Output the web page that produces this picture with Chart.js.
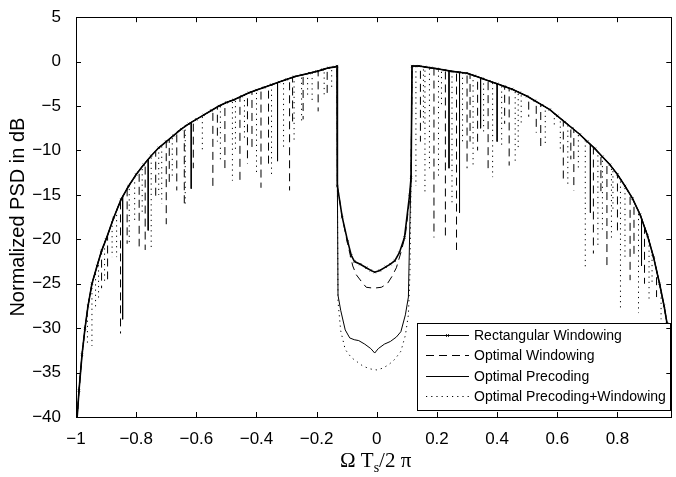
<!DOCTYPE html>
<html>
<head>
<meta charset="utf-8">
<script src="https://cdn.jsdelivr.net/npm/chart.js@4.4.1/dist/chart.umd.min.js"></script>
<style>
  html, body { margin: 0; padding: 0; background: #fff; }
  #wrap { width: 676px; height: 477px; }
</style>
</head>
<body>
<div id="wrap"><canvas id="psd" width="676" height="477"></canvas></div>
<script>
// --- data ---
const xTicks = [-1, -0.8, -0.6, -0.4, -0.2, 0, 0.2, 0.4, 0.6, 0.8];
const yTicks = [5, 0, -5, -10, -15, -20, -25, -30, -35, -40];
const seriesNames = ['Rectangular Windowing', 'Optimal Windowing', 'Optimal Precoding', 'Optimal Precoding+Windowing'];

// common upper envelope (all four curves share it)
const envLeft = [
  [-1.0, -42], [-0.99, -37], [-0.98, -33], [-0.97, -30], [-0.96, -27.5], [-0.947, -25],
  [-0.93, -23], [-0.915, -21.3], [-0.9, -20], [-0.875, -17.6], [-0.85, -15.5], [-0.825, -14],
  [-0.8, -12.7], [-0.775, -11.6], [-0.75, -10.6], [-0.725, -9.7], [-0.7, -9], [-0.675, -8.3],
  [-0.65, -7.6], [-0.625, -7.0], [-0.6, -6.5], [-0.575, -6.0], [-0.55, -5.5], [-0.525, -5.0],
  [-0.5, -4.6], [-0.475, -4.3], [-0.45, -3.9], [-0.425, -3.5], [-0.4, -3.2], [-0.375, -2.9],
  [-0.35, -2.6], [-0.325, -2.3], [-0.3, -2.0], [-0.275, -1.7], [-0.25, -1.5], [-0.225, -1.3],
  [-0.2, -1.1], [-0.18, -0.9], [-0.16, -0.7], [-0.14, -0.6], [-0.132, -0.5]
];
const envRight = [
  [0.117, -0.5], [0.14, -0.5], [0.16, -0.6], [0.18, -0.7], [0.2, -0.8], [0.225, -0.95],
  [0.25, -1.1], [0.275, -1.2], [0.3, -1.3], [0.325, -1.6], [0.35, -1.9], [0.375, -2.2],
  [0.4, -2.5], [0.425, -2.8], [0.45, -3.1], [0.475, -3.5], [0.5, -3.9], [0.525, -4.4],
  [0.55, -4.9], [0.575, -5.4], [0.6, -6.1], [0.625, -6.8], [0.65, -7.5], [0.675, -8.2],
  [0.7, -9.0], [0.725, -9.8], [0.75, -10.7], [0.775, -11.6], [0.8, -12.7], [0.825, -14.0],
  [0.85, -15.4], [0.875, -17.2], [0.9, -19.6], [0.92, -22], [0.94, -25], [0.955, -27.5],
  [0.965, -29.5], [0.975, -32], [0.985, -35.5], [0.995, -40]
];

// the notch around zero, one per curve
const rectNotch = [
  [-0.131, -14], [-0.115, -17.5], [-0.097, -20.2], [-0.085, -21.8], [-0.074, -22.5], [-0.055, -22.8],
  [-0.035, -23.2], [-0.02, -23.5], [-0.007, -23.7], [0.01, -23.5], [0.03, -23.1], [0.045, -22.8],
  [0.06, -22.4], [0.075, -21.5], [0.092, -19.8], [0.109, -15], [0.114, -13]
];
const winNotch = [
  [-0.131, -14], [-0.115, -17.5], [-0.097, -20.5], [-0.08, -23], [-0.068, -24], [-0.05, -24.8],
  [-0.035, -25.4], [-0.01, -25.5], [0.015, -25.4], [0.035, -25], [0.05, -24.2], [0.065, -23.2],
  [0.08, -21.5], [0.095, -19.5], [0.109, -15.5], [0.114, -13]
];
const precNotch = [
  [-0.131, -14], [-0.129, -26.3], [-0.12, -28], [-0.105, -30.2], [-0.09, -31.1], [-0.075, -31.3],
  [-0.06, -31.4], [-0.04, -31.8], [-0.02, -32.3], [-0.007, -32.8], [0.005, -32.3], [0.025, -31.8],
  [0.045, -31.5], [0.065, -31], [0.08, -30.4], [0.095, -28.5], [0.105, -26.5], [0.11, -18], [0.114, -13]
];
const precWinNotch = [
  [-0.131, -14], [-0.129, -27], [-0.12, -30.3], [-0.105, -32.4], [-0.085, -33.3], [-0.065, -33.8],
  [-0.045, -34.3], [-0.02, -34.6], [0.0, -34.7], [0.02, -34.5], [0.04, -34.1], [0.06, -33.5],
  [0.08, -32.6], [0.095, -30.8], [0.105, -28.5], [0.11, -24], [0.114, -13]
];

// spectral nulls: [x, top dB, bottom dB]
const winDips = [
  [-0.915, -21.3, -25.5], [-0.895, -19.6, -24.5], [-0.852, -15.6, -30.6], [-0.83, -14.3, -20.5],
  [-0.79, -12.2, -20.8], [-0.77, -11.4, -21.2], [-0.735, -10.1, -15.5], [-0.7, -9.0, -18.3],
  [-0.69, -8.7, -14], [-0.665, -7.9, -14.5], [-0.64, -7.3, -16.2], [-0.61, -6.7, -12],
  [-0.545, -5.4, -14.3], [-0.53, -5.1, -9], [-0.505, -4.7, -12.5], [-0.455, -4.0, -13.8],
  [-0.43, -3.6, -11.5], [-0.415, -3.4, -10], [-0.385, -3.0, -14.2], [-0.36, -2.7, -12],
  [-0.29, -1.9, -14.5], [-0.28, -1.8, -7], [-0.245, -1.5, -6.5], [-0.195, -1.05, -5.6],
  [-0.165, -0.75, -3.8],
  [0.145, -0.5, -9], [0.19, -0.75, -19.8], [0.228, -0.95, -19.8], [0.265, -1.15, -21.2],
  [0.3, -1.3, -12], [0.31, -1.4, -9], [0.335, -1.7, -10], [0.37, -2.1, -12.5],
  [0.425, -2.8, -7], [0.44, -3.0, -11.7], [0.505, -4.0, -6.2], [0.53, -4.5, -8],
  [0.545, -4.8, -9.7], [0.62, -6.6, -13.4], [0.645, -7.3, -11], [0.655, -7.6, -14.5],
  [0.72, -9.6, -21.6], [0.745, -10.6, -15], [0.765, -11.2, -22.9], [0.8, -12.7, -19],
  [0.842, -15, -24.6], [0.855, -15.8, -22], [0.89, -18.6, -25], [0.93, -23.5, -26.5]
];
const precDips = [
  [-0.845, -15.2, -29], [-0.76, -11, -19], [-0.617, -6.8, -14.3], [-0.33, -2.4, -11.2],
  [0.24, -1.05, -12], [0.275, -1.2, -17], [0.345, -1.8, -7.5], [0.4, -2.5, -9],
  [0.71, -9.3, -17], [0.88, -17.6, -23]
];
const precWinDips = [
  [-0.962, -28, -32], [-0.947, -25, -32], [-0.935, -23.6, -28], [-0.925, -22.4, -27],
  [-0.905, -20.3, -24.8], [-0.88, -18, -22], [-0.865, -16.8, -22], [-0.823, -14, -20.7],
  [-0.805, -13, -18], [-0.78, -11.8, -17], [-0.75, -10.6, -21], [-0.725, -9.7, -15],
  [-0.715, -9.4, -16], [-0.68, -8.4, -13], [-0.637, -7.2, -16.4], [-0.58, -6.1, -10],
  [-0.52, -5, -11], [-0.48, -4.3, -13.4], [-0.47, -4.2, -10], [-0.44, -3.7, -9],
  [-0.4, -3.2, -12.5], [-0.35, -2.6, -13], [-0.31, -2.1, -10], [-0.275, -1.7, -9],
  [-0.25, -1.5, -7], [-0.23, -1.35, -4], [-0.215, -1.2, -4.5], [-0.175, -0.85, -3.7],
  [-0.15, -0.65, -3],
  [0.13, -0.5, -14], [0.155, -0.55, -7], [0.16, -0.6, -15], [0.175, -0.7, -12],
  [0.205, -0.85, -13], [0.215, -0.9, -4.8], [0.25, -1.1, -16], [0.285, -1.25, -9],
  [0.32, -1.55, -12], [0.355, -1.95, -8], [0.385, -2.3, -13], [0.415, -2.7, -9.5],
  [0.46, -3.3, -11.5], [0.47, -3.4, -10], [0.48, -3.6, -7], [0.56, -5.1, -9.5],
  [0.59, -5.9, -7.5], [0.61, -6.4, -10], [0.635, -7.1, -14], [0.67, -8.0, -12],
  [0.693, -8.8, -23.1], [0.735, -10.2, -21], [0.75, -10.7, -19], [0.78, -11.8, -20],
  [0.785, -12, -17], [0.81, -13.2, -28], [0.825, -14, -22], [0.87, -16.8, -28.3],
  [0.905, -20, -27], [0.915, -21.4, -25], [0.945, -26, -29]
];

function buildSeries(notch, dips) {
    const pts = [...envLeft, ...notch, ...envRight].map(p => ({ x: p[0], y: p[1] }));
    dips.forEach(d => {
        pts.push({ x: d[0], y: d[1] }, { x: d[0], y: d[2] }, { x: d[0], y: d[1] });
    });
    pts.sort((a, b) => a.x - b.x);
    return pts;
}

// the return stroke of a null is left out so the dash pattern stays visible
const hideReturn = c => (c.p0.parsed.x === c.p1.parsed.x && c.p1.parsed.y > c.p0.parsed.y) ? 'rgba(0,0,0,0)' : undefined;

const SANS = '"Liberation Sans", Arial, Helvetica, sans-serif';
const SERIF = '"Liberation Serif", "DejaVu Serif", "Times New Roman", serif';
const minus = v => (v < 0 ? '\u2212' + Math.abs(v) : String(v));

// white page + box with inward ticks (MATLAB look)
const framePlugin = {
    id: 'frame',
    beforeDraw(chart) {
        const ctx = chart.ctx;
        ctx.save();
        ctx.fillStyle = '#fff';
        ctx.fillRect(0, 0, chart.width, chart.height);
        ctx.restore();
    },
    afterDraw(chart) {
        const { ctx, chartArea: a, scales } = chart;
        ctx.save();
        ctx.strokeStyle = '#000';
        ctx.lineWidth = 1;
        ctx.setLineDash([]);
        ctx.beginPath();
        xTicks.forEach(v => {
            const px = Math.round(scales.x.getPixelForValue(v)) + 0.5;
            ctx.moveTo(px, a.bottom); ctx.lineTo(px, a.bottom - 5);
            ctx.moveTo(px, a.top); ctx.lineTo(px, a.top + 5);
        });
        yTicks.forEach(v => {
            const py = Math.round(scales.y.getPixelForValue(v)) + 0.5;
            ctx.moveTo(a.left, py); ctx.lineTo(a.left + 5, py);
            ctx.moveTo(a.right, py); ctx.lineTo(a.right - 5, py);
        });
        ctx.stroke();
        ctx.strokeRect(Math.round(a.left) + 0.5, Math.round(a.top) + 0.5,
            Math.round(a.right - a.left), Math.round(a.bottom - a.top));

        // x axis title: Omega T_s / 2 pi
        ctx.fillStyle = '#000';
        ctx.textBaseline = 'alphabetic';
        const big = '21px ' + SERIF, small = '14px ' + SERIF;
        const parts = [['\u03A9 T', big, 0], ['s', small, 5], ['/2 \u03C0', big, 0]];
        let w = 0;
        parts.forEach(p => { ctx.font = p[1]; w += ctx.measureText(p[0]).width; });
        let x = (a.left + a.right) / 2 - w / 2 + 2;
        parts.forEach(p => {
            ctx.font = p[1];
            ctx.fillText(p[0], x, 467 + p[2]);
            x += ctx.measureText(p[0]).width;
        });
        ctx.restore();
    }
};

// boxed legend in the lower right corner
const legendPlugin = {
    id: 'boxLegend',
    afterDatasetsDraw(chart) {
        const ctx = chart.ctx;
        ctx.save();
        ctx.fillStyle = '#fff';
        ctx.fillRect(417, 323, 253, 87);
        ctx.strokeStyle = '#000';
        ctx.lineWidth = 1;
        ctx.strokeRect(417.5, 323.5, 253, 87);
        ctx.font = '14px ' + SANS;
        ctx.textBaseline = 'middle';
        chart.data.datasets.forEach((ds, i) => {
            const y = Math.round(335 + i * 20.3) + 0.5;
            ctx.strokeStyle = '#000';
            ctx.lineWidth = Math.min(ds.borderWidth, 1.2);
            ctx.setLineDash(ds.borderDash || []);
            ctx.beginPath();
            ctx.moveTo(426, y); ctx.lineTo(469, y);
            ctx.stroke();
            ctx.setLineDash([]);
            if (ds.pointRadius > 0) {
                ctx.lineWidth = 0.8;
                ctx.beginPath();
                ctx.moveTo(446, y - 1.5); ctx.lineTo(449, y + 1.5);
                ctx.moveTo(446, y + 1.5); ctx.lineTo(449, y - 1.5);
                ctx.stroke();
            }
            ctx.fillStyle = '#000';
            ctx.fillText(ds.label, 474, y + 0.5);
        });
        ctx.restore();
    }
};

const ctx = document.getElementById('psd').getContext('2d');
const chart = new Chart(ctx, {
    type: 'line',
    data: {
        datasets: [
            { label: seriesNames[0], data: buildSeries(rectNotch, []), borderColor: '#000', borderWidth: 1.6,
              pointStyle: 'crossRot', pointRadius: 1.6, pointBorderWidth: 0.7, pointBorderColor: '#000', pointBackgroundColor: '#000' },
            { label: seriesNames[1], data: buildSeries(winNotch, winDips), borderColor: '#000', borderWidth: 1.0,
              borderDash: [8, 5], pointRadius: 0, segment: { borderColor: hideReturn } },
            { label: seriesNames[2], data: buildSeries(precNotch, precDips), borderColor: '#000', borderWidth: 1.0,
              pointRadius: 0, segment: { borderColor: hideReturn } },
            { label: seriesNames[3], data: buildSeries(precWinNotch, precWinDips), borderColor: '#000', borderWidth: 1.0,
              borderDash: [1.2, 4], pointRadius: 0, segment: { borderColor: hideReturn } }
        ]
    },
    options: {
        responsive: false,
        animation: false,
        devicePixelRatio: 1,
        layout: { padding: { top: 15, right: 2, left: 0, bottom: 0 } },
        elements: { line: { tension: 0, fill: false } },
        plugins: { legend: { display: false }, tooltip: { enabled: false } },
        scales: {
            x: {
                type: 'linear', min: -1, max: 0.979,
                afterBuildTicks: axis => { axis.ticks = xTicks.map(v => ({ value: v })); },
                afterFit: axis => { axis.height = 60; },
                grid: { display: false }, border: { display: false },
                ticks: { color: '#000', font: { family: SANS, size: 17 }, padding: 4, maxRotation: 0,
                         autoSkip: false, callback: v => minus(v) }
            },
            y: {
                min: -40, max: 5,
                afterBuildTicks: axis => { axis.ticks = yTicks.map(v => ({ value: v })); },
                afterFit: axis => { axis.width = 76; },
                grid: { display: false }, border: { display: false },
                ticks: { color: '#000', font: { family: SANS, size: 17 }, padding: 7, autoSkip: false,
                         callback: v => minus(v) },
                title: { display: true, text: 'Normalized PSD in dB', color: '#000',
                         font: { family: SANS, size: 20 }, padding: { top: 6, bottom: 0 } }
            }
        }
    },
    plugins: [framePlugin, legendPlugin]
});
</script>
</body>
</html>
